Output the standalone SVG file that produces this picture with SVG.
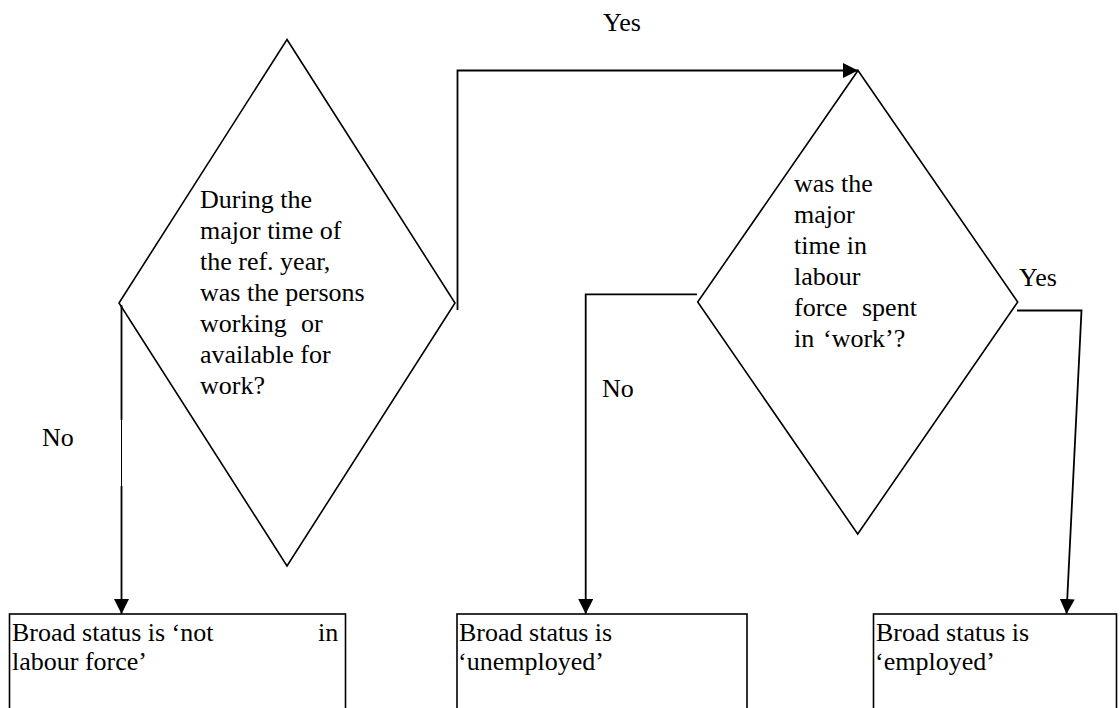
<svg xmlns="http://www.w3.org/2000/svg" width="1120" height="708" viewBox="0 0 1120 708">
<style>
.shape{fill:none;stroke:#000;stroke-width:1.6}
.box{fill:#fff;stroke:#000;stroke-width:1.6}
.conn{fill:none;stroke:#000;stroke-width:1.8}
</style>
<defs>
<marker id="arr" markerWidth="15" markerHeight="15" refX="15" refY="7.5" orient="auto" markerUnits="userSpaceOnUse">
<path d="M0,0 L15,7.5 L0,15 Z" fill="#000"/>
</marker>
</defs>
<g id="connectors">
<path class="conn" d="M121.5,305 V420"/>
<path class="conn" d="M121.5,420 V486" style="stroke-width:1"/>
<path class="conn" d="M121.5,486 V614" marker-end="url(#arr)"/>
<path class="conn" d="M457.5,310 V70.5 H858" marker-end="url(#arr)"/>
<path class="conn" d="M697,294.3 H585.7 V614" marker-end="url(#arr)"/>
<path class="conn" d="M1017,310.5 H1081.5 L1066.5,614" marker-end="url(#arr)"/>
</g>
<g font-family="Liberation Serif, DejaVu Serif, serif" font-size="26" fill="#000">
<g id="decision1">
<polygon class="shape" points="287,39.5 455,303 287,566 119,303"/>
<text x="200" y="208">During the</text>
<text x="200" y="239">major time of</text>
<text x="200" y="270">the ref. year,</text>
<text x="200" y="301">was the persons</text>
<text x="200" y="332">working</text>
<text x="301" y="332">or</text>
<text x="200" y="363">available for</text>
<text x="200" y="394">work?</text>
</g>
<g id="decision2">
<polygon class="shape" points="858,70.5 1017.7,302 857.7,534 697.7,302"/>
<text x="794" y="192">was the</text>
<text x="794" y="223">major</text>
<text x="794" y="254">time in</text>
<text x="794" y="285">labour</text>
<text x="794" y="316">force</text>
<text x="862" y="316">spent</text>
<text x="794" y="347">in</text>
<text x="823" y="347">‘work’?</text>
</g>
<g id="labels">
<text x="603" y="31">Yes</text>
<text x="1019" y="286">Yes</text>
<text x="42" y="446">No</text>
<text x="602" y="397">No</text>
</g>
<g id="box1">
<rect class="box" x="9.5" y="614" width="336" height="110"/>
<text x="12" y="641">Broad status is ‘not</text>
<text x="318" y="641">in</text>
<text x="12" y="670">labour force’</text>
</g>
<g id="box2">
<rect class="box" x="457" y="614" width="290" height="110"/>
<text x="459" y="641">Broad status is</text>
<text x="458" y="670">‘unemployed’</text>
</g>
<g id="box3">
<rect class="box" x="873.5" y="614" width="243" height="110"/>
<text x="876" y="641">Broad status is</text>
<text x="875" y="670">‘employed’</text>
</g>
</g>
</svg>
